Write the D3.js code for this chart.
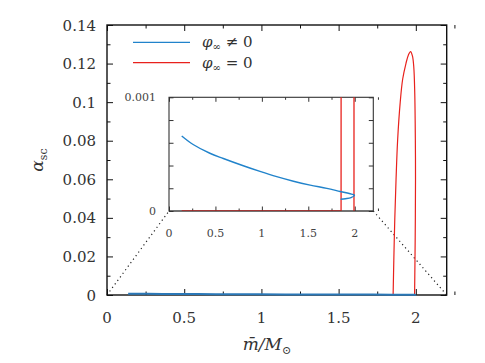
<!DOCTYPE html>
<html>
<head>
<meta charset="utf-8">
<script src="https://cdn.jsdelivr.net/npm/d3@7"></script>
<style>
  body { margin: 0; background: #fff; }
  svg text { font-family: "DejaVu Serif", serif; }
</style>
</head>
<body>
<div id="main"></div>
<script>
// phi_inf != 0 branch (mass, alpha_sc)
const blueMass  = [0.137, 0.26, 0.44, 0.585, 0.80, 0.98, 1.16, 1.34, 1.52, 1.70, 1.843, 1.92, 1.965, 1.997, 1.96, 1.90, 1.848];
const blueAlpha = [0.00066, 0.000585, 0.000508, 0.000462, 0.000398, 0.000348, 0.000302, 0.000262, 0.000228, 0.000199, 0.000172, 0.000158, 0.000149, 0.00014, 0.000118, 0.000108, 0.000103];

// phi_inf = 0 branch
const redMass  = [0.137, 1.853, 1.858, 1.864, 1.872, 1.882, 1.899, 1.915, 1.936, 1.952, 1.966, 1.978, 1.987, 1.993, 1.997, 1.998, 1.996, 1.992];
const redAlpha = [0, 0, 0.02, 0.04, 0.06, 0.08, 0.1, 0.112, 0.12, 0.1245, 0.1262, 0.124, 0.118, 0.105, 0.08, 0.06, 0.03, 0];

const xTicks = [0, 0.5, 1, 1.5, 2];
const xMinor = [0.25, 0.75, 1.25, 1.75, 2.25];
const yTicks = [0, 0.02, 0.04, 0.06, 0.08, 0.1, 0.12, 0.14];
const yMinor = [0.01, 0.03, 0.05, 0.07, 0.09, 0.11, 0.13];
const insetYTicks = [0, 0.0002, 0.0004, 0.0006, 0.0008, 0.001];
const insetYLabels = ['0', '0.001'];

const blueColor = '#2183cb';
const redColor = '#e8211c';

const svg = d3.select('#main').append('svg')
    .attr('width', 485)
    .attr('height', 363);

// Main scales
const x = d3.scaleLinear().domain([0, 2.2]).range([107, 446.7]);
const y = d3.scaleLinear().domain([0, 0.14]).range([295, 25]);

// Inset scales
const xi = d3.scaleLinear().domain([0, 2.2]).range([169, 373.3]);
const yi = d3.scaleLinear().domain([0, 0.001]).range([211, 97.3]);

const blueData = blueMass.map((m, i) => [m, blueAlpha[i]]);
const redData = redMass.map((m, i) => [m, redAlpha[i]]);

function frameAxes(g, sx, sy, opts) {
    const [x0, x1] = sx.range();
    const [y0, y1] = sy.range();
    const add = (axis, tx, ty) => g.append('g')
        .attr('transform', 'translate(' + tx + ',' + ty + ')')
        .call(axis)
        .call(s => s.select('.domain').remove())
        .call(s => s.selectAll('line').attr('stroke', opts.color).attr('stroke-width', opts.tw));

    add(d3.axisBottom(sx).tickValues(opts.xTicks).tickSizeInner(-opts.major).tickSizeOuter(0).tickFormat(''), 0, y0);
    add(d3.axisBottom(sx).tickValues(opts.xMinor).tickSizeInner(-opts.minor).tickSizeOuter(0).tickFormat(''), 0, y0);
    add(d3.axisTop(sx).tickValues(opts.xTicks).tickSizeInner(-opts.major).tickSizeOuter(0).tickFormat(''), 0, y1);
    add(d3.axisTop(sx).tickValues(opts.xMinor).tickSizeInner(-opts.minor).tickSizeOuter(0).tickFormat(''), 0, y1);
    add(d3.axisLeft(sy).tickValues(opts.yTicks).tickSizeInner(-opts.major).tickSizeOuter(0).tickFormat(''), x0, 0);
    add(d3.axisRight(sy).tickValues(opts.yTicks).tickSizeInner(-opts.major).tickSizeOuter(0).tickFormat(''), x1, 0);
    if (opts.yMinor.length) {
        add(d3.axisLeft(sy).tickValues(opts.yMinor).tickSizeInner(-opts.minor).tickSizeOuter(0).tickFormat(''), x0, 0);
        add(d3.axisRight(sy).tickValues(opts.yMinor).tickSizeInner(-opts.minor).tickSizeOuter(0).tickFormat(''), x1, 0);
    }
    g.append('rect')
        .attr('x', x0).attr('y', y1)
        .attr('width', x1 - x0).attr('height', y0 - y1)
        .attr('fill', 'none')
        .attr('stroke', opts.color)
        .attr('stroke-width', opts.bw);
}

const smooth = (sx, sy) => d3.line().curve(d3.curveCatmullRom.alpha(0.5)).x(d => sx(d[0])).y(d => sy(d[1]));

// ---- main plot ----
const guide = { stroke: '#222', width: 1.2, dash: '1.2,3.2' };
svg.append('line')
    .attr('x1', x(0)).attr('y1', y(0))
    .attr('x2', xi(0)).attr('y2', yi(0))
    .attr('stroke', guide.stroke).attr('stroke-width', guide.width).attr('stroke-dasharray', guide.dash);
svg.append('line')
    .attr('x1', xi(2.2)).attr('y1', yi(0))
    .attr('x2', x(2.2)).attr('y2', y(0))
    .attr('stroke', guide.stroke).attr('stroke-width', guide.width).attr('stroke-dasharray', guide.dash);

frameAxes(svg.append('g'), x, y, {
    xTicks: xTicks, xMinor: xMinor, yTicks: yTicks, yMinor: yMinor,
    major: 6, minor: 3.5, color: '#111', tw: 1, bw: 1.4
});

// the rising arc is smoothed, the flat GR part stays straight
svg.append('path')
    .attr('d', smooth(x, y)(redData.slice(1)))
    .attr('fill', 'none').attr('stroke', redColor).attr('stroke-width', 1.2);
svg.append('path').datum(blueData)
    .attr('d', smooth(x, y))
    .attr('fill', 'none').attr('stroke', '#2a78b8').attr('stroke-width', 2);

// main tick labels
svg.append('g').selectAll('text').data(xTicks).join('text')
    .attr('x', d => x(d)).attr('y', 323)
    .attr('text-anchor', 'middle')
    .attr('font-size', 15).attr('fill', '#333')
    .text(d => d);
svg.append('g').selectAll('text').data(yTicks).join('text')
    .attr('x', 96).attr('y', d => y(d) + 5.5)
    .attr('text-anchor', 'end')
    .attr('font-size', 15).attr('fill', '#333')
    .text(d => d);

// ---- inset ----
svg.append('rect')
    .attr('x', xi(0)).attr('y', yi(0.001))
    .attr('width', xi(2.2) - xi(0)).attr('height', yi(0) - yi(0.001))
    .attr('fill', '#fff');

const inset = svg.append('g');
inset.append('clipPath').attr('id', 'insetclip')
    .append('rect').attr('x', xi(0)).attr('y', yi(0.001))
    .attr('width', xi(2.2) - xi(0)).attr('height', yi(0) - yi(0.001));

frameAxes(inset.append('g'), xi, yi, {
    xTicks: xTicks, xMinor: xMinor, yTicks: insetYTicks, yMinor: [],
    major: 4.5, minor: 2.5, color: '#333', tw: 1, bw: 1.1
});

const insetData = inset.append('g').attr('clip-path', 'url(#insetclip)');
insetData.append('path').datum(redData)
    .attr('d', d3.line().x(d => xi(d[0])).y(d => yi(d[1])))
    .attr('fill', 'none').attr('stroke', redColor).attr('stroke-width', 1.3);
insetData.append('path').datum(blueData)
    .attr('d', smooth(xi, yi))
    .attr('fill', 'none').attr('stroke', blueColor).attr('stroke-width', 1.4);
// frame bottom edge drawn again so the GR line reads dark red-brown
inset.append('line')
    .attr('x1', xi(0)).attr('x2', xi(2.2))
    .attr('y1', yi(0)).attr('y2', yi(0))
    .attr('stroke', '#333').attr('stroke-width', 1.1).attr('opacity', 0.6);

inset.append('g').selectAll('text').data(xTicks).join('text')
    .attr('x', d => xi(d)).attr('y', 237)
    .attr('text-anchor', 'middle')
    .attr('font-size', 11).attr('fill', '#444')
    .text(d => d);
inset.append('g').selectAll('text').data(insetYLabels).join('text')
    .attr('x', 156).attr('y', d => yi(+d) + 4)
    .attr('text-anchor', 'end')
    .attr('font-size', 11).attr('fill', '#444')
    .text(d => d);

// ---- legend ----
const legendItems = [
    { color: blueColor, rel: '\u2260' },
    { color: redColor, rel: '=' }
];
const legend = svg.append('g');
legendItems.forEach((d, i) => {
    const ly = 42.3 + i * 20.4;
    legend.append('line')
        .attr('x1', 133).attr('x2', 190)
        .attr('y1', ly).attr('y2', ly)
        .attr('stroke', d.color).attr('stroke-width', 1.3);
    const t = legend.append('text')
        .attr('x', 202).attr('y', ly + 5)
        .attr('font-size', 15).attr('fill', '#333');
    t.append('tspan').attr('font-style', 'italic').text('\u03c6');
    t.append('tspan').attr('font-size', 10).attr('dy', 3).text('\u221e');
    t.append('tspan').attr('dy', -3).text(' ' + d.rel + ' 0');
});

// ---- axis titles ----
const yl = svg.append('text')
    .attr('transform', 'translate(43,160) rotate(-90)')
    .attr('text-anchor', 'middle')
    .attr('font-size', 17).attr('fill', '#333');
yl.append('tspan').attr('font-style', 'italic').text('\u03b1');
yl.append('tspan').attr('font-size', 11).attr('dy', 4).text('sc');

const xl = svg.append('text')
    .attr('x', 267).attr('y', 350)
    .attr('text-anchor', 'middle')
    .attr('font-size', 17).attr('fill', '#333');
xl.append('tspan').attr('font-style', 'italic').text('m\u0304/M');
xl.append('tspan').attr('font-size', 11).attr('dy', 4).text('\u2299');
</script>
</body>
</html>
